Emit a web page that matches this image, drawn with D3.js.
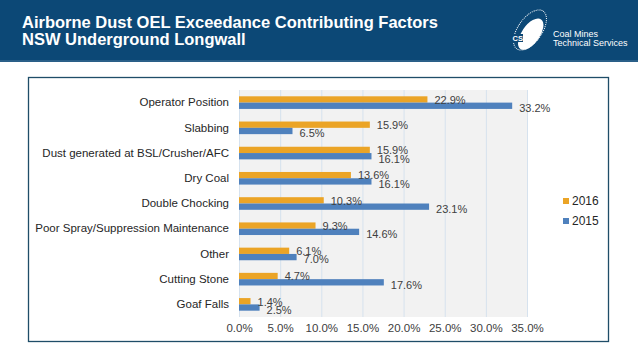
<!DOCTYPE html>
<html><head><meta charset="utf-8">
<script src="https://cdn.jsdelivr.net/npm/d3@7"></script>
<style>html,body{margin:0;padding:0;background:#fff;}svg{display:block;font-family:"Liberation Sans",Arial,sans-serif;}</style>
</head><body>
<svg id="c" width="638" height="359"></svg>
<script>
const categories = ["Operator Position","Slabbing","Dust generated at BSL/Crusher/AFC","Dry Coal","Double Chocking","Poor Spray/Suppression Maintenance","Other","Cutting Stone","Goaf Falls"];
const series = ["2016","2015"];
const values2016 = [22.9,15.9,15.9,13.6,10.3,9.3,6.1,4.7,1.4];
const values2015 = [33.2,6.5,16.1,16.1,23.1,14.6,7.0,17.6,2.5];
const tickValues = [0,5,10,15,20,25,30,35];
const titleLines = ["Airborne Dust OEL Exceedance Contributing Factors","NSW Underground Longwall"];

const colors = {"2016":"#eba426","2015":"#4f81bd"};
const svg = d3.select("#c");

// header band
svg.append("rect").attr("x",0).attr("y",0).attr("width",638).attr("height",61).attr("fill","#0c4876");
svg.append("rect").attr("x",0).attr("y",60).attr("width",638).attr("height",2).attr("fill","#2a5f88");
svg.selectAll("text.title").data(titleLines).join("text").attr("class","title")
  .attr("x",22).attr("y",(d,i)=>28+i*17).attr("fill","#fff")
  .attr("font-size","16.5px").attr("font-weight","bold").text(d=>d);

// logo
const logo = svg.append("g").attr("transform","translate(530,30)");
logo.append("ellipse").attr("rx",23).attr("ry",12).attr("transform","rotate(-55)")
  .attr("fill","none").attr("stroke","#fff").attr("stroke-width",1).attr("stroke-dasharray","1,1");
logo.append("ellipse").attr("cx",-3).attr("cy",3).attr("rx",18).attr("ry",9).attr("transform","rotate(-55)")
  .attr("fill","#fff");
logo.append("rect").attr("x",-18).attr("y",4).attr("width",11).attr("height",8).attr("fill","#0c4876");
logo.append("text").attr("x",-17.5).attr("y",11).attr("fill","#fff").attr("font-size","7.5px").attr("font-weight","bold").text("CS");
svg.append("text").attr("x",553).attr("y",37).attr("fill","#fff").attr("font-size","9px").text("Coal Mines");
svg.append("text").attr("x",553).attr("y",46).attr("fill","#fff").attr("font-size","9px").text("Technical Services");

// frame
svg.append("rect").attr("x",28.5).attr("y",77.5).attr("width",580).attr("height",264)
  .attr("fill","#fff").attr("stroke","#1f4d68").attr("stroke-width",1.3);

const x = d3.scaleLinear().domain([0,35]).range([239,527]);
const y = d3.scaleBand().domain(categories).range([90,317]).paddingInner(0.5).paddingOuter(0.25);
const ys = d3.scaleBand().domain(series).range([0,y.bandwidth()]);

svg.append("rect").attr("x",x(0)).attr("y",90).attr("width",x(35)-x(0)).attr("height",227).attr("fill","#f2f2f2");
svg.selectAll("line.grid").data(tickValues).join("line").attr("class","grid")
  .attr("x1",d=>x(d)+0.5).attr("x2",d=>x(d)+0.5).attr("y1",90).attr("y2",317)
  .attr("stroke","#d6e2ee").attr("stroke-width",1);

const xAxis = d3.axisBottom(x).tickValues(tickValues).tickFormat(d=>d.toFixed(1)+"%").tickSize(0).tickPadding(7);
const gx = svg.append("g").attr("transform","translate(0,317)").call(xAxis);
gx.select(".domain").remove();
gx.selectAll("text").attr("font-size","11.5px").attr("fill","#404040").attr("font-family","Liberation Sans,Arial,sans-serif");

const yAxis = d3.axisLeft(y).tickSize(0).tickPadding(10);
const gy = svg.append("g").attr("transform","translate(239,0)").call(yAxis);
gy.select(".domain").remove();
gy.selectAll("text").attr("font-size","11.5px").attr("fill","#262626").attr("font-family","Liberation Sans,Arial,sans-serif");

const data = [];
categories.forEach((c,i)=>{
  data.push({cat:c,s:"2016",v:values2016[i]});
  data.push({cat:c,s:"2015",v:values2015[i]});
});
svg.selectAll("rect.bar").data(data).join("rect").attr("class","bar")
  .attr("x",x(0)).attr("y",d=>y(d.cat)+ys(d.s)).attr("width",d=>x(d.v)-x(0)).attr("height",ys.bandwidth())
  .attr("fill",d=>colors[d.s]);
svg.selectAll("text.val").data(data).join("text").attr("class","val")
  .attr("x",d=>x(d.v)+7).attr("y",d=>y(d.cat)+ys(d.s)+ys.bandwidth()/2+(d.s==="2016"?0.5:2.5))
  .attr("dy","0.35em").attr("font-size","11px").attr("fill","#404040").text(d=>d.v.toFixed(1)+"%");

// legend
const lg = svg.selectAll("g.lg").data(series).join("g").attr("class","lg")
  .attr("transform",(d,i)=>`translate(563,${201+i*20})`);
lg.append("rect").attr("x",0).attr("y",-3).attr("width",6).attr("height",6).attr("fill",d=>colors[d]);
lg.append("text").attr("x",9).attr("y",0).attr("dy","0.35em").attr("font-size","12px").attr("fill","#262626").text(d=>d);
</script>
</body></html>
